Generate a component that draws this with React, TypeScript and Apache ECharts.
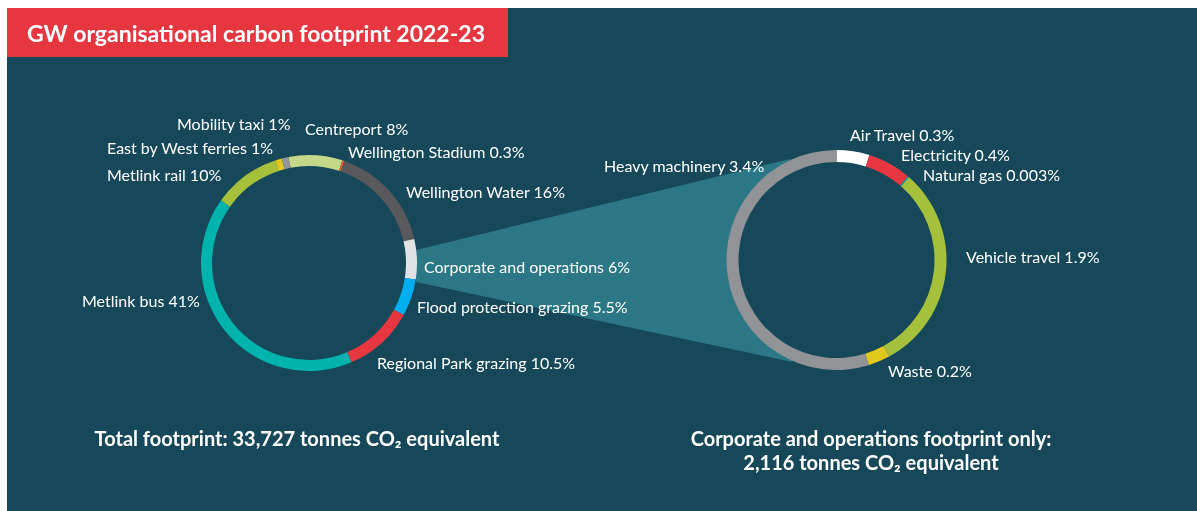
import React, { useEffect, useRef } from "react";
import * as echarts from "echarts";

// ---- Data ----
const titleText = "GW organisational carbon footprint 2022-23";

const leftNames = [
  "Centreport",
  "Wellington Stadium",
  "Wellington Water",
  "Corporate and operations",
  "Flood protection grazing",
  "Regional Park grazing",
  "Metlink bus",
  "Metlink rail",
  "East by West ferries",
  "Mobility taxi",
];
const leftValues = [8, 0.3, 16, 6, 5.5, 10.5, 41, 10, 1, 1];

const rightNames = [
  "Air Travel",
  "Electricity",
  "Natural gas",
  "Vehicle travel",
  "Waste",
  "Heavy machinery",
];
const rightValues = [0.3, 0.4, 0.003, 1.9, 0.2, 3.4];

const totalFootprint = "33,727";
const corporateFootprint = "2,116";

// ---- Styles / layout ----
const BG = "#17485a";
const RED = "#e63741";
const CONNECTOR = "#2c7785";
const FONT = "Lato, 'Noto Sans', sans-serif";

const leftColors = [
  "#c5d88a",
  "#e8622c",
  "#59595b",
  "#e1e2e3",
  "#00aeef",
  "#e63741",
  "#00b4ad",
  "#a5c13c",
  "#e0c81c",
  "#939598",
];
const rightColors = ["#ffffff", "#e63741", "#00b4ad", "#a5c13c", "#e0c81c", "#929397"];

const leftLabelPos = [
  [305, 128],
  [348, 151],
  [406, 191],
  [424, 266],
  [417, 306],
  [377, 362],
  [82, 300],
  [107, 174],
  [107, 147],
  [177, 123],
];
const rightLabelPos = [
  [850, 134],
  [901, 154],
  [923, 174],
  [966, 256],
  [888, 370],
  [604, 165],
];

const leftCenter = [309, 263];
const rightCenter = [836.5, 260];

export default function App() {
  const ref = useRef<HTMLDivElement>(null);

  useEffect(() => {
    if (!ref.current) return;
    const chart = echarts.init(ref.current, undefined, { renderer: "svg" });

    const labelStyle = {
      show: true,
      color: "#ffffff",
      fontFamily: FONT,
      fontSize: 16,
      formatter: (p: any) => `${p.name} ${p.value}%`,
    };

    chart.setOption({
      animation: false,
      backgroundColor: "transparent",
      graphic: [
        {
          type: "rect",
          z: 0,
          shape: { x: 7, y: 8, width: 1190, height: 503 },
          style: { fill: BG },
          silent: true,
        },
        {
          type: "polygon",
          z: 1,
          shape: {
            points: [
              [416, 250],
              [790, 159],
              [rightCenter[0], rightCenter[1]],
              [792, 362],
              [416, 282],
            ],
          },
          style: { fill: CONNECTOR },
          silent: true,
        },
        {
          type: "circle",
          z: 1,
          shape: { cx: rightCenter[0], cy: rightCenter[1], r: 99 },
          style: { fill: BG },
          silent: true,
        },
        {
          type: "rect",
          z: 1,
          shape: { x: 7, y: 8, width: 501, height: 49 },
          style: { fill: RED },
          silent: true,
        },
        {
          type: "text",
          z: 3,
          x: 27,
          y: 33,
          style: {
            text: titleText,
            fill: "#ffffff",
            font: `bold 23px ${FONT}`,
            textVerticalAlign: "middle",
            textAlign: "left",
          },
          silent: true,
        },
        {
          type: "text",
          z: 3,
          x: 297,
          y: 438,
          style: {
            text: `Total footprint: ${totalFootprint} tonnes CO₂ equivalent`,
            fill: "#ffffff",
            font: `bold 20px ${FONT}`,
            textVerticalAlign: "middle",
            textAlign: "center",
          },
          silent: true,
        },
        {
          type: "text",
          z: 3,
          x: 871,
          y: 438,
          style: {
            text: "Corporate and operations footprint only:",
            fill: "#ffffff",
            font: `bold 20px ${FONT}`,
            textVerticalAlign: "middle",
            textAlign: "center",
          },
          silent: true,
        },
        {
          type: "text",
          z: 3,
          x: 871,
          y: 462,
          style: {
            text: `${corporateFootprint} tonnes CO₂ equivalent`,
            fill: "#ffffff",
            font: `bold 20px ${FONT}`,
            textVerticalAlign: "middle",
            textAlign: "center",
          },
          silent: true,
        },
      ],
      series: [
        {
          type: "pie",
          z: 2,
          center: leftCenter,
          radius: [97, 108],
          startAngle: 101,
          clockwise: true,
          avoidLabelOverlap: false,
          silent: true,
          emphasis: { disabled: true },
          label: labelStyle,
          labelLine: { show: false },
          labelLayout: (params: any) => {
            const p = leftLabelPos[params.dataIndex];
            return { x: p[0], y: p[1], align: "left", verticalAlign: "middle", hideOverlap: false };
          },
          itemStyle: { borderWidth: 0 },
          data: leftNames.map((n, i) => ({
            name: n,
            value: leftValues[i],
            itemStyle: { color: leftColors[i] },
          })),
        },
        {
          type: "pie",
          z: 2,
          center: rightCenter,
          radius: [98, 110],
          startAngle: 90,
          clockwise: true,
          minAngle: 0.7,
          avoidLabelOverlap: false,
          silent: true,
          emphasis: { disabled: true },
          label: labelStyle,
          labelLine: { show: false },
          labelLayout: (params: any) => {
            const p = rightLabelPos[params.dataIndex];
            return { x: p[0], y: p[1], align: "left", verticalAlign: "middle", hideOverlap: false };
          },
          itemStyle: { borderWidth: 0 },
          data: rightNames.map((n, i) => ({
            name: n,
            value: rightValues[i],
            itemStyle: { color: rightColors[i] },
          })),
        },
      ],
    });

    return () => chart.dispose();
  }, []);

  return (
    <div
      ref={ref}
      style={{ position: "fixed", left: 0, top: 0, width: 1197, height: 511 }}
    />
  );
}
